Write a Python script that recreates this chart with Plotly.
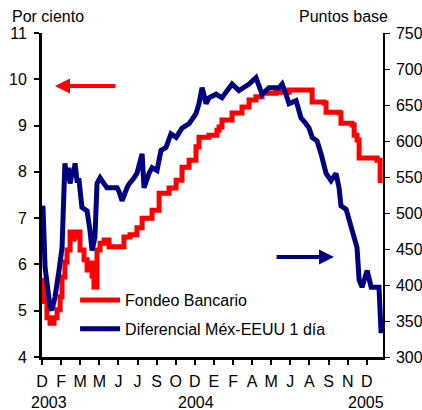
import plotly.graph_objects as go

# x positions are in "month-tick" units (0 = first tick "D")
tick_labels = ["D", "F", "M", "M", "J", "J", "S", "O", "D", "E", "F", "A", "M", "J", "A", "S", "N", "D"]
year_labels = ["2003", "2004", "2005"]
year_pos = [0.37, 8.06, 16.96]

fondeo_x = [0, 0.10, 0.26, 0.42, 0.63, 0.79, 0.95, 1.05, 1.20, 1.31, 1.47, 1.60, 1.68, 1.83, 1.99,
            2.20, 2.36, 2.51, 2.62, 2.72, 2.88, 3.04, 3.25, 3.51, 3.93, 4.29, 4.61, 4.97, 5.24,
            5.76, 6.13, 6.65, 7.02, 7.33, 7.70, 8.06, 8.22, 8.74, 9.16, 9.27, 9.42, 9.95, 10.47,
            10.84, 11.20, 11.52, 12.25, 12.93, 14.08, 14.14, 14.76, 14.87, 15.55, 15.65, 16.23,
            16.34, 16.49, 16.60, 17.54, 17.70]
fondeo_y = [5.66, 5.20, 4.85, 4.73, 4.85, 5.02, 5.30, 5.73, 6.05, 6.31, 6.70, 6.55, 6.59, 6.70, 6.31,
            6.10, 5.88, 6.03, 5.75, 5.51, 6.31, 6.46, 6.53, 6.38, 6.38, 6.59, 6.64, 6.79, 7.00,
            7.17, 7.54, 7.65, 7.82, 8.10, 8.25, 8.54, 8.75, 8.79, 8.90, 8.97, 9.12, 9.27, 9.40,
            9.55, 9.62, 9.70, 9.72, 9.77, 9.77, 9.51, 9.49, 9.29, 9.27, 9.05, 9.01,
            8.79, 8.69, 8.30, 8.25, 7.76]

dif_x = [0, 0.05, 0.16, 0.37, 0.42, 0.52, 0.68, 0.89, 1.05, 1.15, 1.20, 1.31, 1.41, 1.47, 1.57,
         1.68, 1.73, 1.83, 1.94, 2.09, 2.36, 2.51, 2.62, 2.77, 2.88, 3.04, 3.25, 3.40, 3.66,
         3.93, 4.03, 4.19, 4.45, 4.55, 4.82, 4.97, 5.24, 5.34, 5.60, 5.76, 6.02, 6.23, 6.49,
         6.75, 7.02, 7.33, 7.70, 8.06, 8.22, 8.38, 8.59, 8.74, 9.11, 9.42, 9.95, 10.31, 10.84,
         11.20, 11.52, 11.88, 12.41, 12.57, 12.77, 12.93, 13.30, 13.56, 13.82, 13.98, 14.14,
         14.40, 14.61, 14.87, 15.13, 15.39, 15.55, 15.65, 15.92, 16.18, 16.49, 16.60, 16.75,
         17.02, 17.23, 17.64, 17.75]
dif_y = [503, 510, 425, 379, 369, 365, 383, 420, 452, 531, 569, 545, 563, 541, 555,
         559, 569, 545, 545, 508, 503, 476, 448, 466, 541, 549, 541, 535, 535,
         535, 530, 517, 535, 540, 549, 555, 582, 535, 555, 563, 559, 587, 591,
         610, 605, 618, 624, 638, 652, 674, 652, 660, 665, 660, 679, 670, 679,
         688, 665, 674, 674, 679, 665, 652, 656, 632, 624, 618, 605,
         600, 582, 555, 545, 555, 535, 510, 505, 480, 452, 407, 397,
         420, 397, 397, 333]

RED = "#FF0000"
NAVY = "#000080"
FONT = "Arial, Liberation Sans, sans-serif"
FS = 16

fig = go.Figure()
fig.add_trace(go.Scatter(x=fondeo_x, y=fondeo_y, mode="lines", name="Fondeo Bancario",
                         line=dict(color=RED, width=5, shape="hv"), legendgroup="a"))
fig.add_trace(go.Scatter(x=dif_x, y=dif_y, mode="lines", name="Diferencial Méx-EEUU 1 día",
                         line=dict(color=NAVY, width=5), yaxis="y2", legendgroup="b"))

annotations = [
    dict(text="Por ciento", x=(48 - 42) / 341, y=1.05, xref="paper", yref="paper", showarrow=False,
         xanchor="center", yanchor="middle", font=dict(size=FS, color="black", family=FONT)),
    dict(text="Puntos base", x=(343 - 42) / 341, y=1.05, xref="paper", yref="paper", showarrow=False,
         xanchor="center", yanchor="middle", font=dict(size=FS, color="black", family=FONT)),
    # arrows
    dict(x=(55 - 42) / 341, y=(357 - 86) / 324, xref="paper", yref="paper", ax=62, ay=0,
         axref="pixel", ayref="pixel", showarrow=True, arrowhead=2, arrowsize=0.75,
         arrowwidth=4, arrowcolor=RED, text=""),
    dict(x=(334 - 42) / 341, y=(357 - 257) / 324, xref="paper", yref="paper", ax=-59, ay=0,
         axref="pixel", ayref="pixel", showarrow=True, arrowhead=2, arrowsize=0.75,
         arrowwidth=4, arrowcolor=NAVY, text=""),
]
for lbl, pos in zip(year_labels, year_pos):
    annotations.append(dict(text=lbl, x=pos, y=-0.139, xref="x", yref="paper", showarrow=False,
                            xanchor="center", yanchor="middle",
                            font=dict(size=FS, color="black", family=FONT)))

fig.update_layout(
    width=422, height=410,
    margin=dict(l=42, r=39, t=33, b=53, autoexpand=False),
    paper_bgcolor="white", plot_bgcolor="white",
    font=dict(family=FONT, size=FS, color="black"),
    showlegend=True,
    legend=dict(x=0.097, y=0.228, xanchor="left", yanchor="top", bgcolor="rgba(0,0,0,0)",
                font=dict(size=FS, family=FONT), traceorder="grouped", tracegroupgap=5,
                itemwidth=40),
    xaxis=dict(range=[0, 17.85], tickmode="array", tickvals=list(range(len(tick_labels))),
               ticktext=tick_labels, ticks="outside", ticklen=5, tickwidth=2, tickcolor="black",
               showline=True, linecolor="black", linewidth=3, showgrid=False, zeroline=False,
               ticklabelstandoff=3, tickfont=dict(size=FS), automargin=False),
    yaxis=dict(range=[4, 11], dtick=1, ticks="outside", ticklen=5, tickwidth=2, tickcolor="black",
               showline=True, linecolor="black", linewidth=3, showgrid=False, zeroline=False,
               tickfont=dict(size=FS), ticklabelstandoff=4, automargin=False),
    yaxis2=dict(range=[300, 750], dtick=50, overlaying="y", side="right", ticks="outside",
                ticklen=5, tickwidth=1, tickcolor="black", showline=True, linecolor="black",
                linewidth=1.5, showgrid=False, zeroline=False, tickfont=dict(size=FS),
                ticklabelstandoff=3, automargin=False),
    annotations=annotations,
)

fig.write_html("out.html", config={"displayModeBar": False},
               post_script="document.body.style.margin='0';document.body.style.overflow='hidden';")
